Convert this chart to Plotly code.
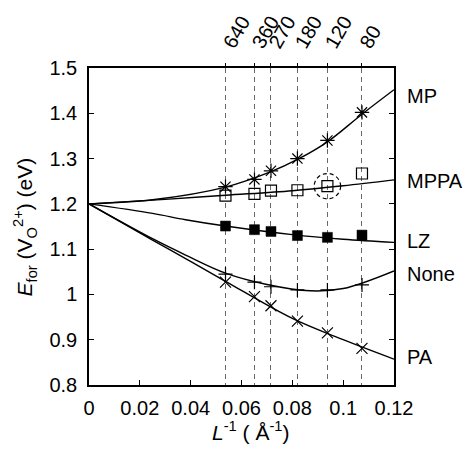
import plotly.graph_objects as go

# Supercell sizes (top axis labels) and their inverse lengths (bottom axis)
L_labels = ["640", "360", "270", "180", "120", "80"]
inv_L = [0.0537, 0.0651, 0.0716, 0.0820, 0.0938, 0.1074]

# Data points (eV)
MP = [1.238, 1.254, 1.273, 1.300, 1.340, 1.402]
MPPA = [1.218, 1.222, 1.229, 1.230, 1.239, 1.267]
LZ = [1.151, 1.143, 1.139, 1.130, 1.126, 1.131]
NONE = [1.045, 1.027, 1.017, 1.010, 1.010, 1.021]
PA = [1.027, 0.995, 0.975, 0.941, 0.915, 0.881]

# Fitted curves
MP_fit_x = [0, 0.025, 0.0537, 0.0716, 0.082, 0.0938, 0.1074, 0.12]
MP_fit_y = [1.2, 1.209, 1.237, 1.271, 1.298, 1.337, 1.398, 1.452]
MPPA_fit_x = [0, 0.03, 0.0537, 0.08, 0.1, 0.12]
MPPA_fit_y = [1.2, 1.210, 1.219, 1.229, 1.240, 1.253]
LZ_fit_x = [0, 0.025, 0.038, 0.0537, 0.08, 0.1, 0.12]
LZ_fit_y = [1.2, 1.179, 1.165, 1.151, 1.132, 1.122, 1.115]
NONE_fit_x = [0, 0.025, 0.038, 0.0537, 0.07, 0.087, 0.1, 0.12]
NONE_fit_y = [1.2, 1.123, 1.087, 1.047, 1.022, 1.008, 1.013, 1.052]
PA_fit_x = [0, 0.025, 0.038, 0.0537, 0.08, 0.1, 0.12]
PA_fit_y = [1.2, 1.120, 1.079, 1.029, 0.947, 0.900, 0.857]

series_names = ["MP", "MPPA", "LZ", "None", "PA"]
label_y = [1.439, 1.250, 1.118, 1.045, 0.861]

FONT = "Liberation Sans, Arial, Helvetica, sans-serif"
BLACK = "#000000"

fig = go.Figure()

fits = [(MP_fit_x, MP_fit_y), (MPPA_fit_x, MPPA_fit_y), (LZ_fit_x, LZ_fit_y),
        (NONE_fit_x, NONE_fit_y), (PA_fit_x, PA_fit_y)]
for fx, fy in fits:
    fig.add_trace(go.Scatter(x=fx, y=fy, mode="lines",
                             line=dict(color=BLACK, width=1.4, shape="spline", smoothing=1.0),
                             showlegend=False, hoverinfo="skip"))

marker_specs = [
    (MP, dict(symbol="asterisk-open", size=12, color=BLACK, line=dict(color=BLACK, width=1.2))),
    (MPPA, dict(symbol="square-open", size=11, color=BLACK, line=dict(color=BLACK, width=1.2))),
    (LZ, dict(symbol="square", size=10, color=BLACK, line=dict(color=BLACK, width=0.5))),
    (NONE, dict(symbol="cross-thin-open", size=10, color=BLACK, line=dict(color=BLACK, width=1.2))),
    (PA, dict(symbol="x-thin-open", size=11, color=BLACK, line=dict(color=BLACK, width=1.2))),
]
for vals, mk in marker_specs:
    fig.add_trace(go.Scatter(x=inv_L, y=vals, mode="markers", marker=mk,
                             showlegend=False, hoverinfo="skip"))

# invisible trace to keep the top axis alive
fig.add_trace(go.Scatter(x=inv_L, y=MPPA, xaxis="x2", mode="markers",
                         marker=dict(opacity=0), showlegend=False, hoverinfo="skip"))

# dashed circle around the MPPA 120 point
cx, cy = inv_L[4], MPPA[4]
rx, ry = 0.0052, 0.028
fig.add_shape(type="circle", xref="x", yref="y", x0=cx - rx, x1=cx + rx, y0=cy - ry, y1=cy + ry,
              line=dict(color=BLACK, width=1.2, dash="4px,3px"))

for name, ly in zip(series_names, label_y):
    fig.add_annotation(x=1.036, xref="paper", y=ly, yref="y", text=name, showarrow=False,
                       xanchor="left", yanchor="middle", font=dict(family=FONT, size=20, color=BLACK))

fig.add_annotation(x=0.53, xref="paper", y=-0.145, yref="paper", yanchor="middle",
                   text="<i>L</i><sup>-1</sup> ( Å<sup>-1</sup>)", showarrow=False,
                   font=dict(family=FONT, size=21, color=BLACK))
fig.add_annotation(x=-0.21, xref="paper", y=0.5, yref="paper", textangle=-90,
                   xanchor="center", yanchor="middle",
                   text="<i>E</i><sub>for</sub> (V<sub>O</sub><sup>2+</sup>) (eV)", showarrow=False,
                   font=dict(family=FONT, size=21, color=BLACK))

xt = [0, 0.02, 0.04, 0.06, 0.08, 0.10, 0.12]
xt_text = ["0", "0.02", "0.04", "0.06", "0.08", "0.1", "0.12"]

fig.update_layout(
    width=466, height=450,
    margin=dict(l=89, r=72, t=58, b=65),
    paper_bgcolor="white", plot_bgcolor="white",
    font=dict(family=FONT, size=20, color=BLACK),
    xaxis=dict(range=[0, 0.12], tickvals=xt, ticktext=xt_text, ticks="inside", ticklen=5,
               tickcolor=BLACK, showline=True, linecolor=BLACK, linewidth=1.5, mirror=True,
               showgrid=False, zeroline=False, tickfont=dict(size=20), ticklabelstandoff=4),
    xaxis2=dict(range=[0, 0.12], overlaying="x", side="top", anchor="y",
                tickvals=inv_L, ticktext=L_labels, tickangle=-60, ticks="outside", ticklen=4,
                tickcolor=BLACK, showline=False, showgrid=True, gridcolor="#6a6a6a",
                gridwidth=1.2, griddash="5px,4px", zeroline=False, tickfont=dict(size=20)),
    yaxis=dict(range=[0.8, 1.5], dtick=0.1, tick0=0.8, ticks="inside", ticklen=5, tickcolor=BLACK,
               showline=True, linecolor=BLACK, linewidth=1.5, mirror="ticks",
               showgrid=False, zeroline=False, tickfont=dict(size=20), ticklabelstandoff=6),
)

fig.write_html("out.html")
